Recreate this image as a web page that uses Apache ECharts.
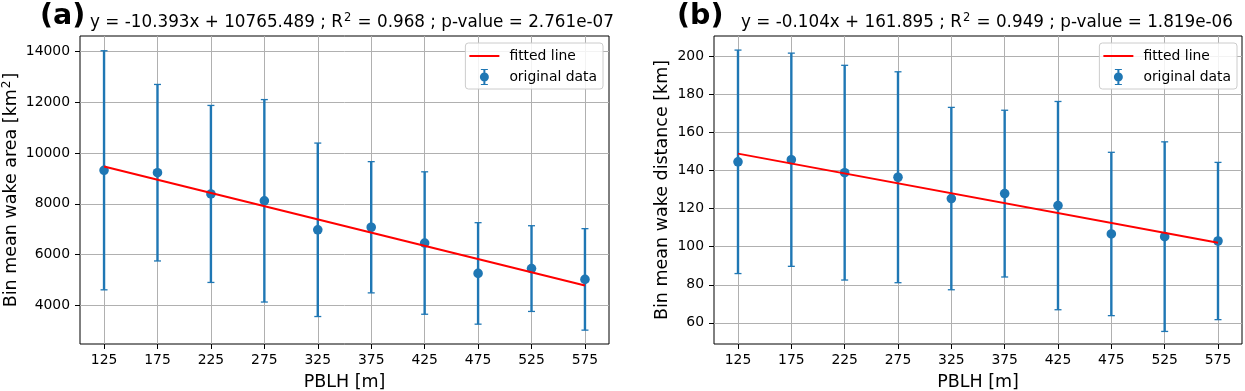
<!DOCTYPE html>
<html>
<head>
<meta charset="utf-8">
<script src="https://cdn.jsdelivr.net/npm/echarts@6.0.0/dist/echarts.min.js"></script>
<style>
  html, body { margin: 0; padding: 0; background: #fff; }
  #chart { width: 1245px; height: 391px; }
</style>
</head>
<body>
<div id="chart"></div>
<script>
// bins of boundary layer height (x)
const pblh = [125, 175, 225, 275, 325, 375, 425, 475, 525, 575]
const xTicks = [125, 175, 225, 275, 325, 375, 425, 475, 525, 575]

// panel (a): wake area
const areaMean = [9320, 9225, 8390, 8120, 6980, 7080, 6460, 5265, 5455, 5030]
const areaErr = [4700, 3470, 3480, 3980, 3410, 2580, 2800, 1995, 1685, 1995]
const areaFitX = [125, 575]
const areaFitY = [9466, 4789]
const areaTicks = [4000, 6000, 8000, 10000, 12000, 14000]

// panel (b): wake distance
const distMean = [144.6, 145.7, 138.9, 136.5, 125.3, 127.9, 121.6, 106.7, 105.3, 103.0]
const distErr = [58.7, 56.0, 56.4, 55.4, 47.9, 43.8, 54.7, 42.9, 49.8, 41.3]
const distFitX = [125, 575]
const distFitY = [148.9, 102.1]
const distTicks = [60, 80, 100, 120, 140, 160, 180, 200]

const BLUE = '#1f77b4'
const FONT = 'DejaVu Sans'

const supRich = {
  n: { fontFamily: FONT, fontSize: 16.8, fontWeight: 'normal', color: '#000' },
  s: { fontFamily: FONT, fontSize: 11.5, fontWeight: 'normal', color: '#000', verticalAlign: 'top', padding: [0, 1, 9, 1] }
}
const nameRich = {
  n: { fontFamily: FONT, fontSize: 17.5, color: '#000' },
  s: { fontFamily: FONT, fontSize: 12, color: '#000', padding: [0, 1, 8, 1] }
}

function renderErrorBar (params, api) {
  const x = api.value(0)
  const y = api.value(1)
  const e = api.value(2)
  const top = api.coord([x, y + e])
  const bot = api.coord([x, y - e])
  const mid = api.coord([x, y])
  const cap = 3.5
  return {
    type: 'group',
    children: [
      { type: 'line', shape: { x1: top[0], y1: top[1], x2: bot[0], y2: bot[1] }, style: { stroke: BLUE, lineWidth: 2.4 } },
      { type: 'line', shape: { x1: top[0] - cap, y1: top[1], x2: top[0] + cap, y2: top[1] }, style: { stroke: BLUE, lineWidth: 1.3 } },
      { type: 'line', shape: { x1: bot[0] - cap, y1: bot[1], x2: bot[0] + cap, y2: bot[1] }, style: { stroke: BLUE, lineWidth: 1.3 } },
      { type: 'circle', shape: { cx: mid[0], cy: mid[1], r: 4.8 }, style: { fill: BLUE } }
    ]
  }
}

function buildXAxis (gridIndex) {
  return {
    type: 'value',
    gridIndex: gridIndex,
    min: 102.5,
    max: 597.5,
    name: 'PBLH [m]',
    nameLocation: 'middle',
    nameGap: 29,
    nameTextStyle: { fontFamily: FONT, fontSize: 17.5, color: '#000' },
    axisLine: { show: false },
    axisTick: { show: true, customValues: xTicks, length: 5, lineStyle: { color: '#000', width: 1 } },
    axisLabel: { customValues: xTicks, margin: 9, fontFamily: FONT, fontSize: 13.9, color: '#000' },
    splitLine: { show: true, lineStyle: { color: '#b0b0b0', width: 1 } }
  }
}

function buildYAxis (gridIndex, min, max, ticks, name, gap) {
  return {
    type: 'value',
    gridIndex: gridIndex,
    min: min,
    max: max,
    name: name,
    nameLocation: 'middle',
    nameGap: gap,
    nameTextStyle: { rich: nameRich },
    axisLine: { show: false },
    axisTick: { show: true, customValues: ticks, length: 5, lineStyle: { color: '#000', width: 1 } },
    axisLabel: { customValues: ticks, margin: 10, fontFamily: FONT, fontSize: 13.9, color: '#000', formatter: (v) => String(v) },
    splitLine: { show: true, lineStyle: { color: '#b0b0b0', width: 1 } }
  }
}

function buildLegend (right) {
  return {
    right: right,
    top: 43,
    orient: 'vertical',
    selectedMode: false,
    backgroundColor: 'rgba(255,255,255,0.85)',
    borderColor: '#cccccc',
    borderWidth: 1,
    borderRadius: 3,
    padding: [6, 6, 4, 4],
    itemGap: 6,
    itemWidth: 30,
    itemHeight: 16,
    textStyle: { fontFamily: FONT, fontSize: 13.9, color: '#000', padding: [0, 0, 0, 5] },
    data: [
      { name: 'fitted line', icon: 'path://M0,7L30,7L30,9L0,9Z', itemStyle: { color: '#ff0000' } },
      { name: 'original data', icon: 'path://M11.5,0L18.5,0L18.5,1L16,1L16,15L18.5,15L18.5,16L11.5,16L11.5,15L14,15L14,1L11.5,1Z M10.5,8a4.5,4.5 0 1,1 9,0a4.5,4.5 0 1,1 -9,0Z', itemStyle: { color: BLUE } }
    ]
  }
}

function pairs (xs, ys, es) {
  return xs.map((x, i) => es ? [x, ys[i], es[i]] : [x, ys[i]])
}

const chart = echarts.init(document.getElementById('chart'), null, { renderer: 'canvas' })

chart.setOption({
  animation: false,
  backgroundColor: '#fff',
  title: [
    { text: '(a)', left: 35, top: -3, textStyle: { fontFamily: FONT, fontWeight: 'bold', fontSize: 28.5, color: '#000' } },
    { text: '(b)', left: 672, top: -3, textStyle: { fontFamily: FONT, fontWeight: 'bold', fontSize: 28.5, color: '#000' } },
    {
      text: '{n|y = -10.393x + 10765.489 ; R}{s|2}{n| = 0.968 ; p-value = 2.761e-07}',
      left: 347, top: 7, textAlign: 'center',
      textStyle: { fontWeight: 'normal', rich: supRich }
    },
    {
      text: '{n|y = -0.104x + 161.895 ; R}{s|2}{n| = 0.949 ; p-value = 1.819e-06}',
      left: 982, top: 7, textAlign: 'center',
      textStyle: { fontWeight: 'normal', rich: supRich }
    }
  ],
  legend: [buildLegend(642), buildLegend(8)],
  grid: [
    { left: 80, top: 36, width: 529, height: 308, outerBoundsMode: 'none', containLabel: false, show: true, borderColor: '#000', borderWidth: 1, backgroundColor: '#fff' },
    { left: 714, top: 36, width: 528, height: 308, outerBoundsMode: 'none', containLabel: false, show: true, borderColor: '#000', borderWidth: 1, backgroundColor: '#fff' }
  ],
  xAxis: [buildXAxis(0), buildXAxis(1)],
  yAxis: [
    buildYAxis(0, 2490, 14600, areaTicks, '{n|Bin mean wake area [km}{s|2}{n|]}', 59),
    buildYAxis(1, 48.9, 210.7, distTicks, '{n|Bin mean wake distance [km]}', 43)
  ],
  series: [
    {
      name: 'original data', type: 'custom', xAxisIndex: 0, yAxisIndex: 0,
      data: pairs(pblh, areaMean, areaErr), renderItem: renderErrorBar,
      itemStyle: { color: BLUE }, encode: { x: 0, y: 1 }, z: 3
    },
    {
      name: 'fitted line', type: 'line', xAxisIndex: 0, yAxisIndex: 0,
      data: pairs(areaFitX, areaFitY), showSymbol: false, symbol: 'none',
      lineStyle: { color: '#ff0000', width: 2 }, itemStyle: { color: '#ff0000' }, z: 4
    },
    {
      name: 'original data', type: 'custom', xAxisIndex: 1, yAxisIndex: 1,
      data: pairs(pblh, distMean, distErr), renderItem: renderErrorBar,
      itemStyle: { color: BLUE }, encode: { x: 0, y: 1 }, z: 3
    },
    {
      name: 'fitted line', type: 'line', xAxisIndex: 1, yAxisIndex: 1,
      data: pairs(distFitX, distFitY), showSymbol: false, symbol: 'none',
      lineStyle: { color: '#ff0000', width: 2 }, itemStyle: { color: '#ff0000' }, z: 4
    }
  ]
})
</script>
</body>
</html>
